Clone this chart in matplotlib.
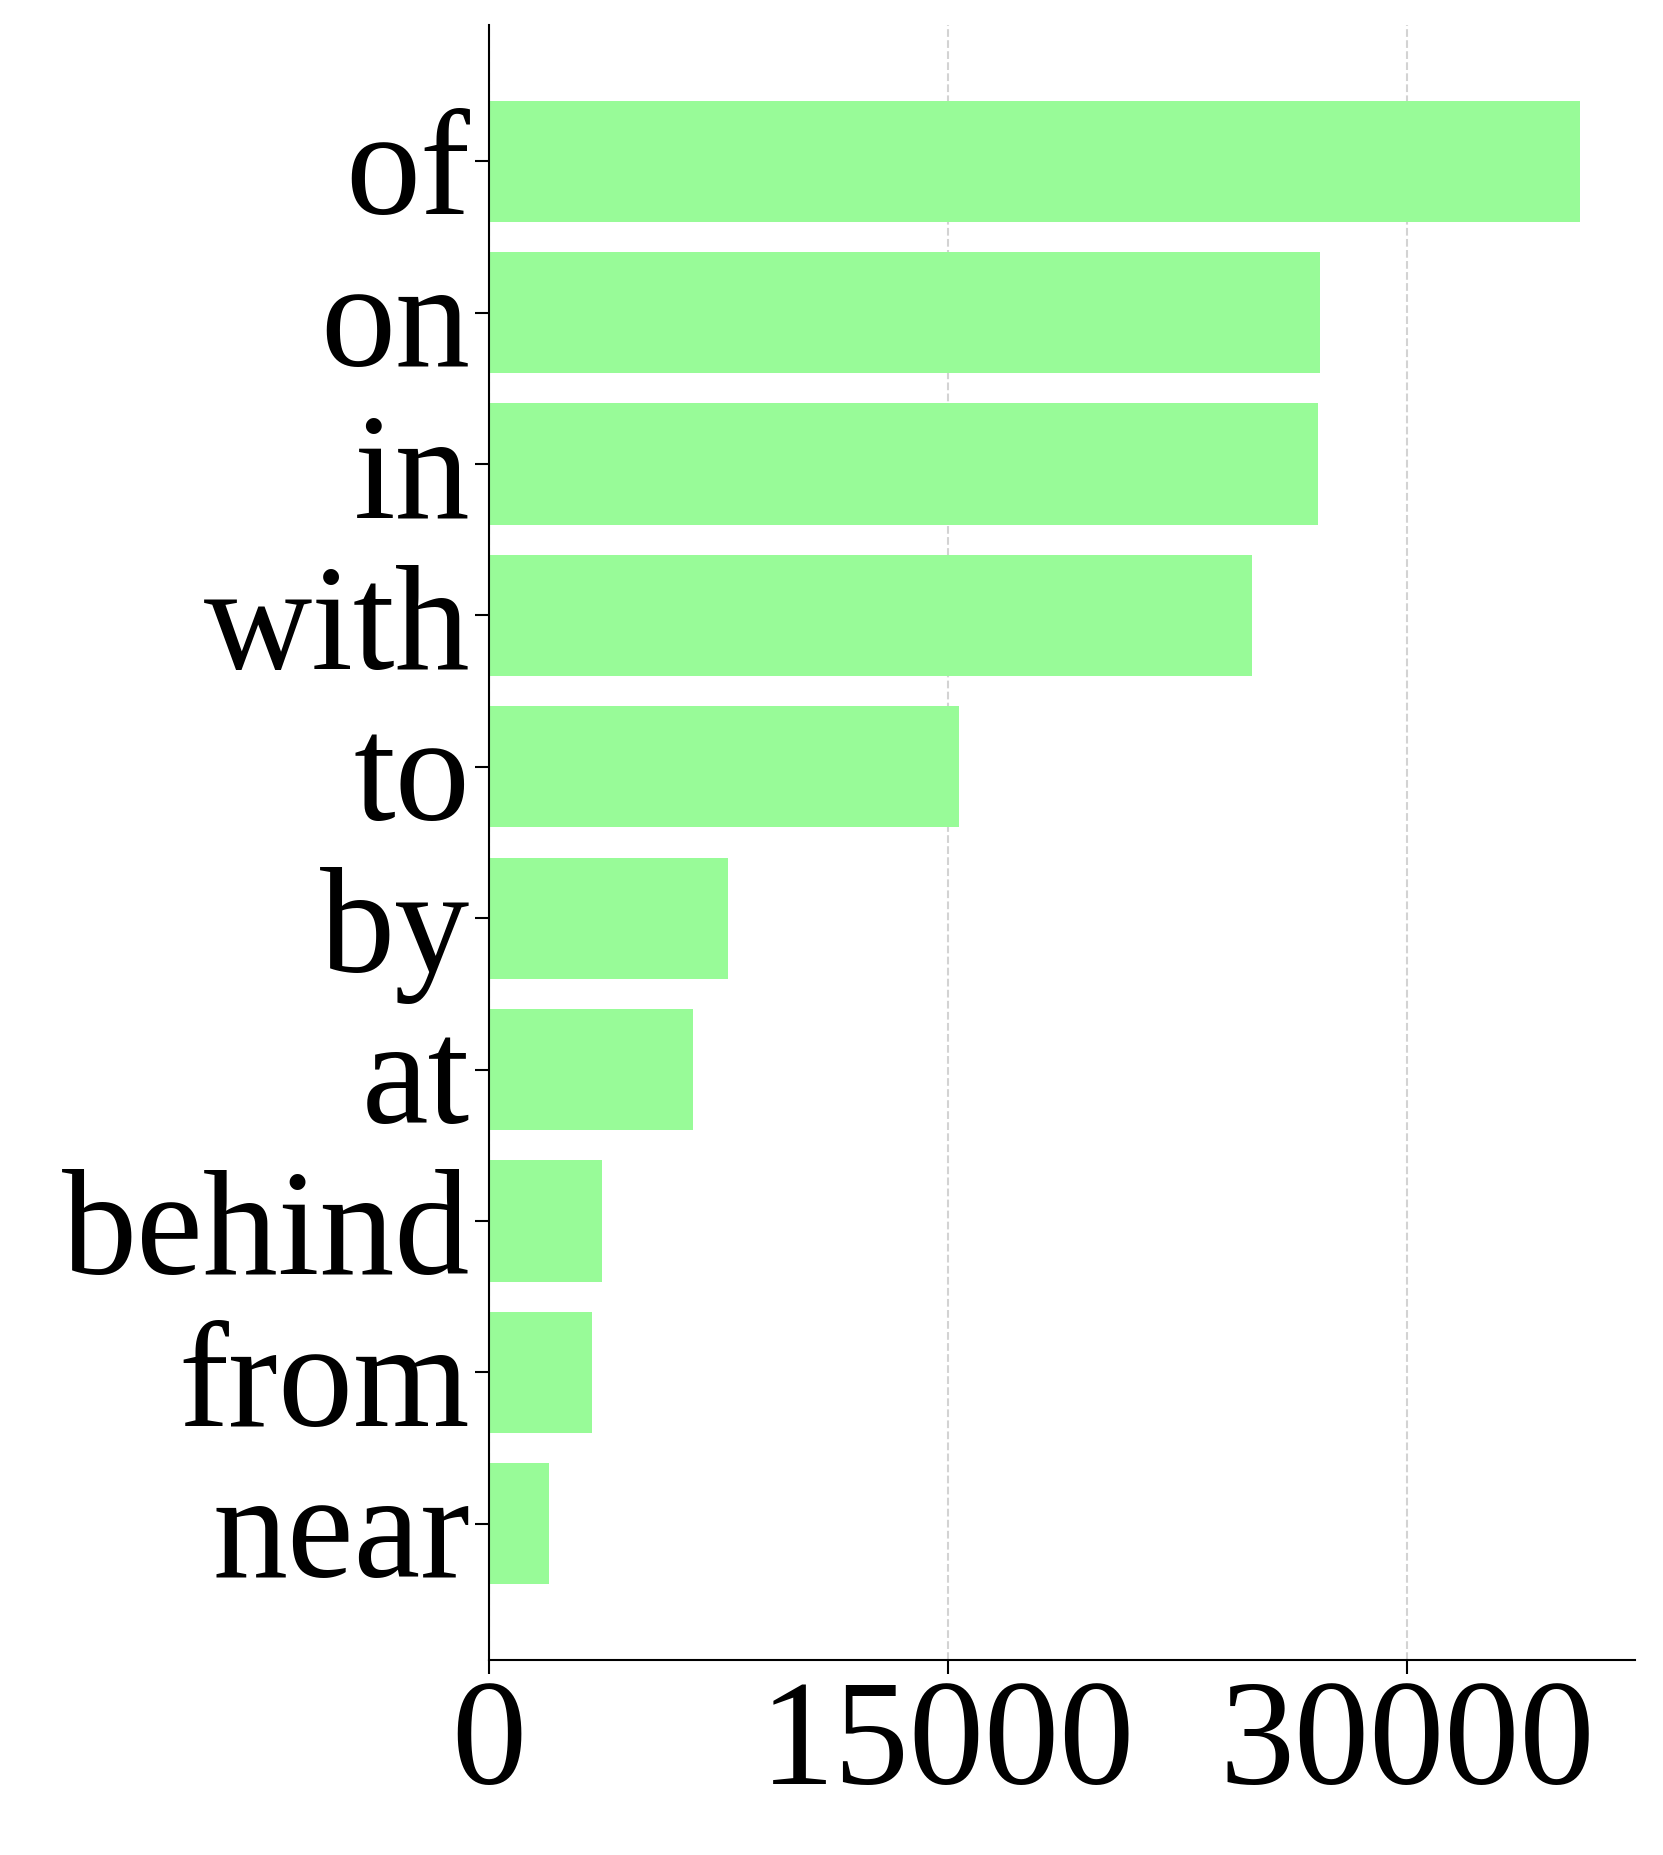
import matplotlib.pyplot as plt

words = ["of", "on", "in", "with", "to", "by", "at", "behind", "from", "near"]
counts = [35650, 27140, 27100, 24930, 15370, 7820, 6660, 3680, 3370, 1970]

plt.rcParams['font.family'] = ['Liberation Serif', 'DejaVu Serif']

fig = plt.figure(figsize=(16.63, 18.56), dpi=100)
ax = fig.add_axes([0.294, 0.105, 0.689, 0.881])

ypos = list(range(len(words)))
ax.barh(ypos, counts, height=0.8, color="palegreen", zorder=2)
ax.set_yticks(ypos)
ax.set_yticklabels(words)
ax.set_ylim(len(words) - 0.1, -0.9)
ax.set_xlim(0, 37440)
ax.set_xticks([0, 15000, 30000])
ax.tick_params(axis='both', labelsize=108, length=10, width=1.5)
ax.grid(axis='x', linestyle='--', color='lightgray', linewidth=1.5, zorder=0)
ax.spines['top'].set_visible(False)
ax.spines['right'].set_visible(False)
for s in ['left', 'bottom']:
    ax.spines[s].set_linewidth(1.5)

fig.savefig("out.png")
